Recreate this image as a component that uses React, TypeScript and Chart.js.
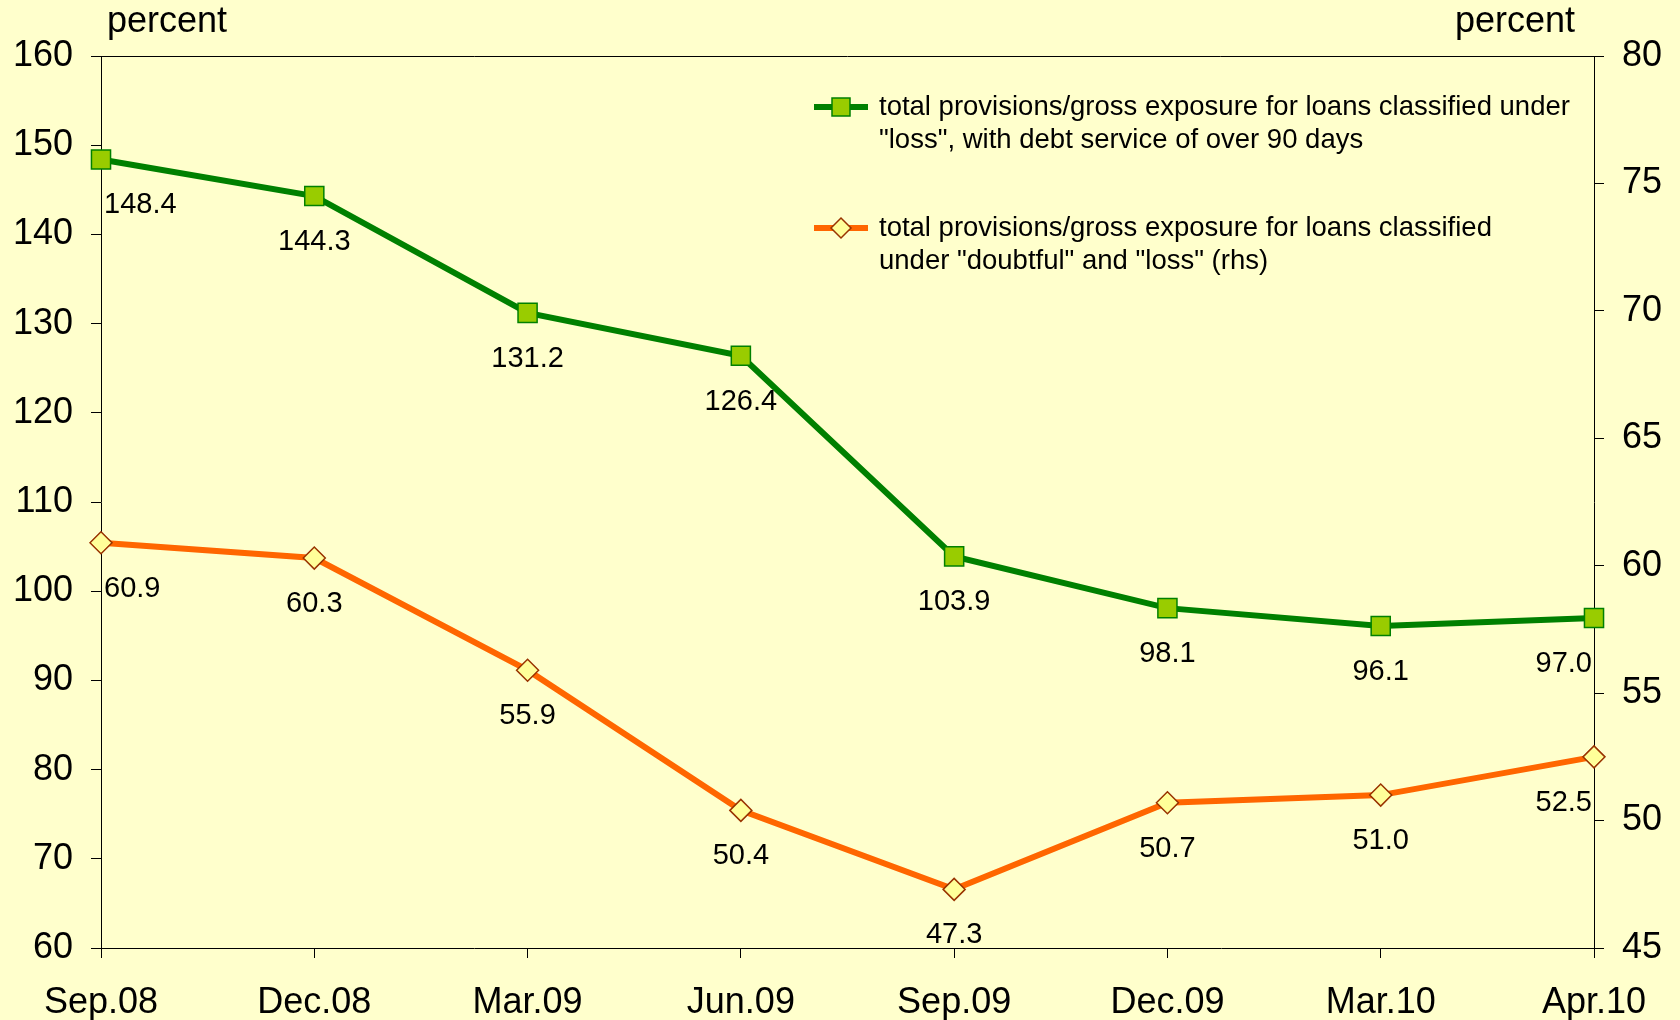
import React, { useEffect, useRef } from "react";
import { Chart, registerables } from "chart.js";

Chart.register(...registerables);

const categories = ["Sep.08", "Dec.08", "Mar.09", "Jun.09", "Sep.09", "Dec.09", "Mar.10", "Apr.10"];
const lossOver90 = [148.4, 144.3, 131.2, 126.4, 103.9, 98.1, 96.1, 97.0];
const doubtfulAndLoss = [60.9, 60.3, 55.9, 50.4, 47.3, 50.7, 51.0, 52.5];
const legendLoss = ["total provisions/gross exposure for loans classified under", "\"loss\", with debt service of over 90 days"];
const legendDoubtful = ["total provisions/gross exposure for loans classified", "under \"doubtful\" and \"loss\" (rhs)"];
const unitLabel = "percent";

const FONT = "'Liberation Sans', Arial, sans-serif";
const GREEN = "#008000";
const GREEN_FILL = "#99CC00";
const ORANGE = "#FF6600";
const ORANGE_FILL = "#FFFF99";
const ORANGE_BORDER = "#993300";

const extrasPlugin = {
  id: "extras",
  afterDatasetsDraw(chart: any) {
    const ctx = chart.ctx;
    const area = chart.chartArea;
    ctx.save();
    // top border
    ctx.strokeStyle = "#000";
    ctx.lineWidth = 1;
    ctx.beginPath();
    ctx.moveTo(area.left, area.top + 0.5);
    ctx.lineTo(area.right, area.top + 0.5);
    ctx.stroke();

    // unit labels
    ctx.fillStyle = "#000";
    ctx.font = `36px ${FONT}`;
    ctx.textBaseline = "middle";
    ctx.textAlign = "left";
    ctx.fillText(unitLabel, 107, 22);
    ctx.textAlign = "right";
    ctx.fillText(unitLabel, 1575, 22);

    // data labels
    ctx.font = `29px ${FONT}`;
    chart.data.datasets.forEach((ds: any, di: number) => {
      const meta = chart.getDatasetMeta(di);
      meta.data.forEach((pt: any, i: number) => {
        const v = ds.data[i];
        const txt = v.toFixed(1);
        let align = "center";
        let x = pt.x;
        if (i === 0) { align = "left"; x = pt.x + 3; }
        if (i === meta.data.length - 1) { align = "right"; x = pt.x - 2; }
        ctx.textAlign = align;
        ctx.fillText(txt, x, pt.y + 46);
      });
    });

    // legend
    const drawEntry = (y: number, lines: string[], color: string, fill: string, border: string, shape: string) => {
      ctx.strokeStyle = color;
      ctx.lineWidth = 6;
      ctx.beginPath();
      ctx.moveTo(814, y);
      ctx.lineTo(868, y);
      ctx.stroke();
      ctx.fillStyle = fill;
      ctx.strokeStyle = border;
      ctx.lineWidth = 1.5;
      ctx.beginPath();
      if (shape === "rect") {
        ctx.rect(832, y - 9, 18, 18);
      } else {
        ctx.moveTo(841 - 10, y);
        ctx.lineTo(841, y - 10);
        ctx.lineTo(841 + 10, y);
        ctx.lineTo(841, y + 10);
        ctx.closePath();
      }
      ctx.fill();
      ctx.stroke();
      ctx.fillStyle = "#000";
      ctx.font = `27.5px ${FONT}`;
      ctx.textAlign = "left";
      ctx.textBaseline = "middle";
      lines.forEach((l, i) => ctx.fillText(l, 879, y + i * 33));
    };
    drawEntry(107, legendLoss, GREEN, GREEN_FILL, GREEN, "rect");
    drawEntry(228, legendDoubtful, ORANGE, ORANGE_FILL, ORANGE_BORDER, "diamond");
    ctx.restore();
  },
};

export default function App() {
  const ref = useRef<HTMLCanvasElement>(null);
  useEffect(() => {
    if (!ref.current) return;
    Chart.defaults.color = "#000";
    const chart = new Chart(ref.current, {
      type: "line",
      data: {
        labels: categories,
        datasets: [
          {
            label: legendLoss.join(" "),
            data: lossOver90,
            yAxisID: "y",
            borderColor: GREEN,
            borderWidth: 6,
            backgroundColor: GREEN_FILL,
            pointBackgroundColor: GREEN_FILL,
            pointBorderColor: GREEN,
            pointBorderWidth: 1.5,
            pointStyle: "rect",
            pointRadius: 13.5,
            tension: 0,
          },
          {
            label: legendDoubtful.join(" "),
            data: doubtfulAndLoss,
            yAxisID: "y1",
            borderColor: ORANGE,
            borderWidth: 6,
            backgroundColor: ORANGE_FILL,
            pointBackgroundColor: ORANGE_FILL,
            pointBorderColor: ORANGE_BORDER,
            pointBorderWidth: 1.5,
            pointStyle: "rectRot",
            pointRadius: 11,
            tension: 0,
          },
        ],
      },
      options: {
        animation: false,
        responsive: true,
        maintainAspectRatio: false,
        layout: { padding: { top: 56, left: 0, right: 0, bottom: 0 } },
        plugins: { legend: { display: false }, tooltip: { enabled: false } },
        scales: {
          x: {
            offset: false,
            afterFit: (s: any) => { s.height = 72; },
            grid: { drawOnChartArea: false, drawTicks: true, tickLength: 10, color: "#000" },
            border: { color: "#000", width: 1 },
            ticks: { font: { family: FONT, size: 36 }, color: "#000", padding: 23, maxRotation: 0, autoSkip: false },
          },
          y: {
            position: "left",
            min: 60,
            max: 160,
            afterFit: (s: any) => { s.width = 101; },
            grid: { drawOnChartArea: false, drawTicks: true, tickLength: 10, color: "#000" },
            border: { color: "#000", width: 1 },
            ticks: { stepSize: 10, font: { family: FONT, size: 36 }, color: "#000", padding: 18 },
          },
          y1: {
            position: "right",
            min: 45,
            max: 80,
            afterFit: (s: any) => { s.width = 86; },
            grid: { drawOnChartArea: false, drawTicks: true, tickLength: 10, color: "#000" },
            border: { color: "#000", width: 1 },
            ticks: { stepSize: 5, font: { family: FONT, size: 36 }, color: "#000", padding: 18 },
          },
        },
      },
      plugins: [extrasPlugin],
    });
    return () => chart.destroy();
  }, []);
  return (
    <div style={{ position: "fixed", left: 0, top: 0, width: 1680, height: 1020, background: "#FFFFCC" }}>
      <canvas ref={ref} width={1680} height={1020} />
    </div>
  );
}
